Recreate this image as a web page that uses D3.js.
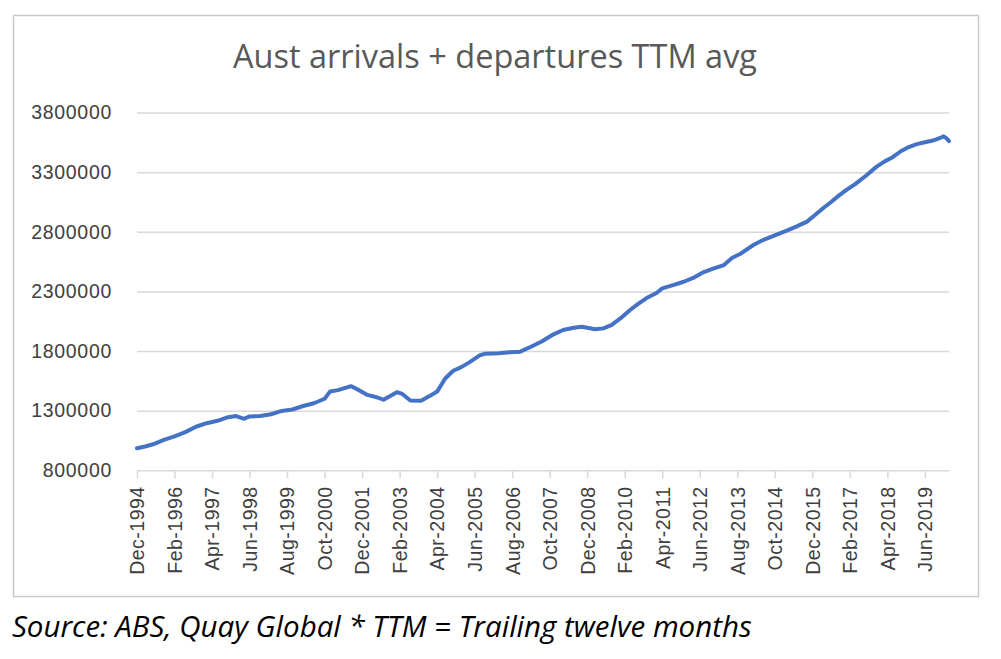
<!DOCTYPE html>
<html>
<head>
<meta charset="utf-8">
<script src="https://cdn.jsdelivr.net/npm/d3@7"></script>
<style>
  html, body { margin: 0; padding: 0; background: #ffffff; }
  svg { display: block; }
</style>
</head>
<body>
<svg id="chart" width="1001" height="659"></svg>
<script>
// ---- Data ----
const title = "Aust arrivals + departures TTM avg";
const sourceNote = "Source: ABS, Quay Global * TTM = Trailing twelve months";

const startMonth = "1994-12";
const endMonth = "2020-03";

const months = [
  "1994-12","1995-03","1995-06","1995-10","1996-02","1996-06","1996-10","1997-02","1997-06","1997-10",
  "1998-01","1998-04","1998-06","1998-10","1999-02","1999-06","1999-10","2000-02","2000-06","2000-10",
  "2000-12","2001-03","2001-07","2001-08","2001-11","2002-02","2002-05","2002-08","2002-11","2003-01",
  "2003-03","2003-06","2003-10","2004-01","2004-04","2004-07","2004-10","2005-01","2005-04","2005-08",
  "2005-10","2006-03","2006-07","2006-11","2007-03","2007-07","2007-11","2008-03","2008-07","2008-10",
  "2008-12","2009-03","2009-06","2009-09","2010-01","2010-04","2010-07","2010-10","2011-02","2011-04",
  "2011-08","2011-12","2012-04","2012-07","2012-11","2013-03","2013-06","2013-09","2014-02","2014-06",
  "2014-10","2015-02","2015-06","2015-10","2016-01","2016-04","2016-07","2016-10","2017-01","2017-04",
  "2017-08","2017-12","2018-03","2018-06","2018-09","2018-12","2019-03","2019-06","2019-09","2019-12",
  "2020-01","2020-02","2020-03"
];
const values = [
  985000,1000000,1018000,1055000,1085000,1120000,1165000,1195000,1215000,1245000,
  1255000,1232000,1252000,1255000,1270000,1298000,1310000,1339000,1362000,1400000,
  1460000,1472000,1500000,1505000,1470000,1432000,1415000,1392000,1430000,1455000,
  1440000,1385000,1383000,1420000,1460000,1570000,1635000,1665000,1705000,1765000,
  1778000,1781000,1790000,1795000,1836000,1880000,1935000,1976000,1995000,2004000,
  1995000,1982000,1990000,2018000,2085000,2144000,2195000,2242000,2289000,2326000,
  2352000,2381000,2418000,2457000,2490000,2521000,2580000,2613000,2689000,2735000,
  2770000,2805000,2843000,2885000,2940000,2997000,3050000,3105000,3155000,3200000,
  3270000,3346000,3390000,3425000,3475000,3510000,3535000,3550000,3565000,3590000,
  3600000,3585000,3560000
];

const xTickLabels = ["Dec-1994","Feb-1996","Apr-1997","Jun-1998","Aug-1999","Oct-2000","Dec-2001",
  "Feb-2003","Apr-2004","Jun-2005","Aug-2006","Oct-2007","Dec-2008","Feb-2010","Apr-2011",
  "Jun-2012","Aug-2013","Oct-2014","Dec-2015","Feb-2017","Apr-2018","Jun-2019"];
const yTicks = [800000,1300000,1800000,2300000,2800000,3300000,3800000];

// ---- Helpers ----
const monNames = ["Jan","Feb","Mar","Apr","May","Jun","Jul","Aug","Sep","Oct","Nov","Dec"];
function monthIndex(s) { const [y, m] = s.split("-").map(Number); return y * 12 + (m - 1); }
function labelIndex(s) { const [mn, y] = s.split("-"); return +y * 12 + monNames.indexOf(mn); }
const m0 = monthIndex(startMonth), m1 = monthIndex(endMonth);

// ---- Layout ----
const svg = d3.select("#chart");
const plot = { left: 137, right: 949, top: 112.5, bottom: 470.3 };

svg.append("rect")
  .attr("x", 13.5).attr("y", 15.5).attr("width", 965).attr("height", 581)
  .attr("fill", "#ffffff").attr("stroke", "#c8c8c8").attr("stroke-width", 1.5);

const x = d3.scaleLinear().domain([m0, m1]).range([plot.left, plot.right]);
const y = d3.scaleLinear().domain([800000, 3800000]).range([plot.bottom, plot.top]);

function fitText(sel, target) {
  const node = sel.node();
  let fs = parseFloat(sel.attr("font-size"));
  const w = node.getComputedTextLength();
  if (w > 0) sel.attr("font-size", (fs * target / w).toFixed(2));
}

// Title
const t = svg.append("text")
  .attr("x", 495).attr("y", 68)
  .attr("text-anchor", "middle")
  .attr("font-family", "'Open Sans', 'Liberation Sans', sans-serif")
  .attr("font-size", 32)
  .attr("fill", "#595959")
  .text(title);
fitText(t, 524);

// Gridlines + y labels
const yAxis = d3.axisLeft(y).tickValues(yTicks).tickSize(-(plot.right - plot.left)).tickPadding(25)
  .tickFormat(d3.format("d"));
const gy = svg.append("g").attr("transform", `translate(${plot.left},0)`).call(yAxis);
gy.select(".domain").remove();
gy.selectAll(".tick line").attr("stroke", "#d9d9d9").attr("stroke-width", 1.5);
gy.selectAll(".tick").filter(d => d === 800000).select("line").remove();
gy.selectAll(".tick text")
  .attr("font-family", "'Liberation Sans', Arial, sans-serif")
  .attr("font-size", 19.5)
  .attr("letter-spacing", 0.7)
  .attr("fill", "#404040");

// X axis
const xAxis = d3.axisBottom(x)
  .tickValues(xTickLabels.map(labelIndex))
  .tickSize(8).tickPadding(6)
  .tickFormat((d, i) => xTickLabels[i]);
const gx = svg.append("g").attr("transform", `translate(0,${plot.bottom})`).call(xAxis);
gx.select(".domain").attr("stroke", "#d9d9d9").attr("stroke-width", 1.5)
  .attr("d", `M${plot.left},0.5H${plot.right}`);
gx.selectAll(".tick line").attr("stroke", "#d9d9d9").attr("stroke-width", 1.5);
gx.selectAll(".tick text")
  .attr("font-family", "'Liberation Sans', Arial, sans-serif")
  .attr("font-size", 19.5)
  .attr("letter-spacing", 0.5)
  .attr("fill", "#404040")
  .attr("text-anchor", "end")
  .attr("dy", "0.35em")
  .attr("transform", "translate(0,16) rotate(-90)")
  .attr("x", 0).attr("y", 0);

// Line
const data = months.map((m, i) => ({ m: monthIndex(m), v: values[i] }));
svg.append("path")
  .datum(data)
  .attr("fill", "none")
  .attr("stroke", "#4472C4")
  .attr("stroke-width", 4)
  .attr("stroke-linejoin", "round")
  .attr("stroke-linecap", "round")
  .attr("d", d3.line().x(d => x(d.m)).y(d => y(d.v)));

// Source note
const s = svg.append("text")
  .attr("x", 12).attr("y", 637)
  .attr("font-family", "'Open Sans', 'Liberation Sans', sans-serif")
  .attr("font-style", "italic")
  .attr("font-size", 26)
  .attr("fill", "#000000")
  .text(sourceNote);
fitText(s, 740);
</script>
</body>
</html>
